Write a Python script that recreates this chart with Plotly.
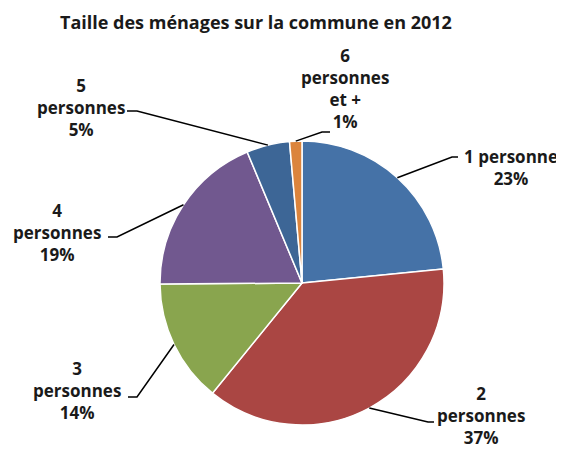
import math
import plotly.graph_objects as go

# ---- data ----
categories = ["1 personne", "2 personnes", "3 personnes", "4 personnes", "5 personnes", "6 personnes et +"]
label_texts = ["1 personne", "2<br>personnes", "3<br>personnes", "4<br>personnes", "5<br>personnes", "6<br>personnes<br>et +"]
values = [23.4, 37.4, 14.0, 18.8, 4.9, 1.4]
colors = ["#4572A7", "#AA4643", "#89A54E", "#71588F", "#3D6696", "#DB843D"]

OFF = 8  # page body margin
W, H = 564 - OFF, 454 - OFF
CX, CY, R = 302, 283, 142

# label layout (window pixel positions): label centre, elbow point, end of leader
label_pos = [(511, 168), (481, 415), (77, 390), (57, 232), (81, 108), (345, 89)]
elbows = [(452, 157), (428, 422), (137, 397), (117, 237), (137, 111), (322, 132)]
ends = [(458, 157), (434, 422), (128, 397), (108, 237), (127, 111), (330, 132)]

def px(x):
    return (x - OFF) / W

def py(y):
    return 1 - (y - OFF) / H

fig = go.Figure(go.Pie(
    labels=categories, values=values, sort=False, direction="clockwise", rotation=0,
    marker=dict(colors=colors, line=dict(color="white", width=1.5)),
    textinfo="none", showlegend=False,
    domain=dict(x=[px(CX - R), px(CX + R)], y=[py(CY + R), py(CY - R)]),
))

total = sum(values)
cum = 0
font = dict(family="Open Sans", size=17, color="#1a1a1a")
for i, v in enumerate(values):
    mid = (cum + v / 2) / total * 2 * math.pi
    cum += v
    sx = CX + R * math.sin(mid)
    sy = CY - R * math.cos(mid)
    ex, ey = elbows[i]
    tx, ty = ends[i]
    fig.add_shape(type="path",
                  path=f"M {px(sx)} {py(sy)} L {px(ex)} {py(ey)} L {px(tx)} {py(ty)}",
                  xref="paper", yref="paper", line=dict(color="black", width=1.5))
    pct = round(v / total * 100)
    lx, ly = label_pos[i]
    fig.add_annotation(x=px(lx), y=py(ly), xref="paper", yref="paper",
                       text=f"<b>{label_texts[i]}<br>{pct}%</b>", showarrow=False,
                       xanchor="center", yanchor="middle", align="center", font=font)

fig.add_annotation(x=px(256), y=py(22), xref="paper", yref="paper",
                   text="<b>Taille des ménages sur la commune en 2012</b>", showarrow=False,
                   xanchor="center", yanchor="middle",
                   font=dict(family="Open Sans", size=18, color="#1a1a1a"))

fig.update_layout(width=W, height=H, margin=dict(l=0, r=0, t=0, b=0),
                  paper_bgcolor="white", plot_bgcolor="white")
fig.write_html("out.html")
